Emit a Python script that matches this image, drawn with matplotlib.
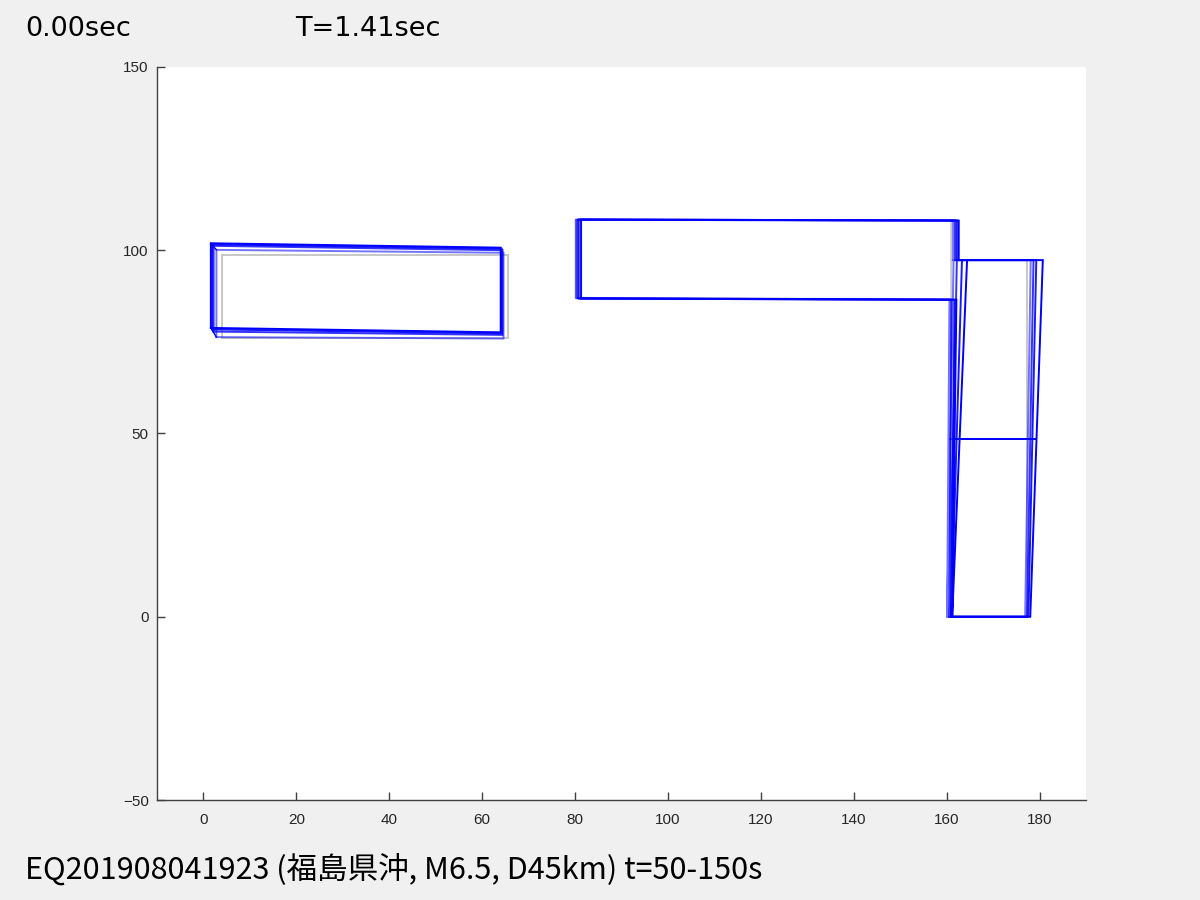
import matplotlib
matplotlib.use("Agg")
import matplotlib.pyplot as plt
import numpy as np

# ---------------- data ----------------
time_label = "0.00sec"
period_label = "T=1.41sec"
caption = "EQ201908041923 (福島県沖, M6.5, D45km) t=50-150s"

x_ticks = [0, 20, 40, 60, 80, 100, 120, 140, 160, 180]
y_ticks = [-50, 0, 50, 100, 150]

# snapshot 0 = original (gray), 1..4 = deformed snapshots (blue, older -> newer)
snap_alpha = [1.0, 0.55, 0.8, 0.9, 1.0]

# Left block: left/right x, y at BL, BR, TR, TL
blk1_xl = [4.0, 2.8, 2.2, 1.9, 1.6]
blk1_xr = [65.5, 64.6, 64.4, 64.2, 64.0]
blk1_ybl = [76.0, 76.3, 77.8, 78.4, 78.8]
blk1_ybr = [76.0, 75.9, 76.9, 77.3, 77.6]
blk1_ytr = [98.6, 99.3, 100.0, 100.4, 100.7]
blk1_ytl = [98.6, 100.1, 101.2, 101.6, 101.9]

# Middle block (bridge) attached to tower
blk2_xl = [80.1, 80.2, 80.5, 80.8, 81.3]
blk2_xr = [161.0, 161.4, 161.8, 162.2, 162.6]
blk2_ytop_l = [108.3, 108.3, 108.3, 108.4, 108.4]
blk2_ytop_r = [108.2, 108.1, 108.1, 108.1, 108.1]
blk2_ybot_l = [87.0, 87.0, 86.9, 86.8, 86.8]
blk2_ybot_r = [86.6, 86.5, 86.5, 86.5, 86.5]
blk2_xsup_bot = [161.0, 160.6, 161.0, 161.7, 162.1]

# Tower (right)
tw_bl = [161.0, 160.1, 160.6, 161.0, 161.2]
tw_br = [177.3, 176.9, 177.3, 177.6, 178.0]
tw_ml = [161.0, 160.8, 161.4, 162.1, 162.8]
tw_mr = [177.3, 177.5, 178.0, 178.5, 179.3]
tw_tl = [161.0, 161.5, 162.2, 163.3, 164.4]
tw_tr = [177.3, 178.1, 178.7, 179.3, 180.7]
tw_y = [0.0, 48.6, 97.3]

# ---------------- figure ----------------
fig = plt.figure(figsize=(12, 9), dpi=100, facecolor="#f0f0f0")
ax = fig.add_axes([0.1308, 0.1111, 0.7742, 0.8145])
ax.set_facecolor("white")

gray = (0.78, 0.78, 0.78)
for s in range(len(snap_alpha)):
    if s == 0:
        col, a, z = gray, 1.0, 1
    else:
        col, a, z = (0, 0, 1), snap_alpha[s], 2 + s
    kw = dict(color=col, alpha=a, lw=1.4, zorder=z, solid_joinstyle="miter")
    # left block
    xs = [blk1_xl[s], blk1_xr[s], blk1_xr[s], blk1_xl[s], blk1_xl[s]]
    ys = [blk1_ybl[s], blk1_ybr[s], blk1_ytr[s], blk1_ytl[s], blk1_ybl[s]]
    ax.plot(xs, ys, **kw)
    # middle block + tower outline
    xs = [tw_bl[s], blk2_xsup_bot[s], blk2_xl[s], blk2_xl[s],
          blk2_xr[s], blk2_xr[s], tw_tr[s], tw_br[s], tw_bl[s], tw_tl[s]]
    ys = [tw_y[0], blk2_ybot_r[s], blk2_ybot_l[s], blk2_ytop_l[s],
          blk2_ytop_r[s], tw_y[2], tw_y[2], tw_y[0], tw_y[0], tw_y[2]]
    ax.plot(xs, ys, **kw)
    # middle floor
    ax.plot([tw_ml[s], tw_mr[s]], [tw_y[1], tw_y[1]], **kw)

# corner connectors of left block (oldest to newest snapshot)
ax.plot([blk1_xl[1], blk1_xl[-1]], [blk1_ytl[1], blk1_ytl[-1]], color="blue", lw=1.0, zorder=6)
ax.plot([blk1_xl[1], blk1_xl[-1]], [blk1_ybl[1], blk1_ybl[-1]], color="blue", lw=1.0, zorder=6)

ax.set_xlim(-10, 190)
ax.set_ylim(-50, 150)
ax.set_xticks(x_ticks)
ax.set_yticks(y_ticks)
for sp in ["top", "right"]:
    ax.spines[sp].set_visible(False)
for sp in ["left", "bottom"]:
    ax.spines[sp].set_color("#404040")
    ax.spines[sp].set_linewidth(1.0)
ax.tick_params(direction="in", length=6, width=1.0, color="#404040",
               labelcolor="#262626", labelsize=11)
ax.tick_params(axis="x", pad=9)
ax.tick_params(axis="y", pad=6)
for lab in ax.get_xticklabels() + ax.get_yticklabels():
    lab.set_family("Liberation Sans")

fam = ["DejaVu Sans", "Noto Sans CJK JP"]
fig.text(25 / 1200, 1 - 36 / 900, time_label, fontsize=19.5, family=fam, color="black")
fig.text(295 / 1200, 1 - 36 / 900, period_label, fontsize=19.5, family=fam, color="black")
fig.text(25 / 1200, 1 - 879 / 900, caption, fontsize=22,
         family=["Noto Sans CJK JP", "DejaVu Sans"], color="black")

fig.savefig("out.png", dpi=100, facecolor=fig.get_facecolor())
